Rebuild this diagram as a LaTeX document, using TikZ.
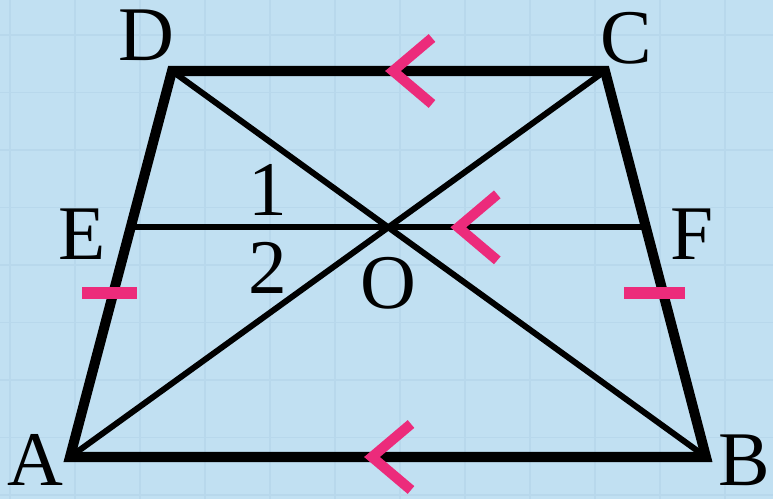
\documentclass[tikz,border=0pt]{standalone}
\usepackage{fontspec}
\setmainfont{Liberation Serif}
\usetikzlibrary{calc}
\definecolor{PaperBlue}{RGB}{193,224,242}
\definecolor{GridBlue}{RGB}{184,216,236}
\definecolor{MarkPink}{RGB}{236,43,123}
\tikzset{
  side/.style={line width=2.85pt, line join=miter},
  diag/.style={line width=1.7pt},
  parmark/.style={MarkPink, line width=2.9pt, line join=miter},
  tickmark/.style={MarkPink, line width=3.4pt},
  lbl/.style={font=\fontsize{22}{26}\selectfont, inner sep=0pt}
}
\newcommand{\parchev}[1]{\draw[parmark] (#1) ++(0.39,0.33) -- (#1) -- ++(0.39,-0.33);}

\begin{document}
\begin{tikzpicture}
  % paper and faint grid
  \fill[PaperBlue] (0,0) rectangle (7.73,4.99);
  \useasboundingbox (0,0) rectangle (7.73,4.99);
  \foreach \k in {0,...,11}
    \draw[GridBlue, line width=0.5pt] ({0.10+0.65*\k},0) -- ({0.10+0.65*\k},4.99);
  \foreach \k in {0,...,8}
    \draw[GridBlue, line width=0.5pt] (0,{4.64-0.575*\k}) -- (7.73,{4.64-0.575*\k});

  % trapezium ABCD
  \coordinate (A) at (0.70,0.42);
  \coordinate (B) at (7.06,0.42);
  \coordinate (C) at (6.05,4.28);
  \coordinate (D) at (1.72,4.28);
  \coordinate (O) at (intersection of A--C and B--D);
  \coordinate (Or) at ($(O)+(1,0)$);
  \coordinate (E) at (intersection of A--D and O--Or);
  \coordinate (F) at (intersection of B--C and O--Or);

  \draw[diag] (A) -- (C);
  \draw[diag] (B) -- (D);
  \draw[diag] (E) -- (F);
  \draw[side] (A) -- (B) -- (C) -- (D) -- cycle;

  % parallel marks
  \coordinate (mDC) at (3.93,4.28);
  \coordinate (mEF) at ($(O)+(0.70,0)$);
  \coordinate (mAB) at (3.72,0.42);
  \parchev{mDC}
  \parchev{mEF}
  \parchev{mAB}

  % equal-length ticks
  \coordinate (tAl) at (0.82,2.06);
  \coordinate (tAr) at (1.37,2.06);
  \coordinate (tBl) at (6.24,2.06);
  \coordinate (tBr) at (6.85,2.06);
  \draw[tickmark] (tAl) -- (tAr);
  \draw[tickmark] (tBl) -- (tBr);

  % labels
  \node[lbl] (lA) at (0.35,0.39) {A};
  \node[lbl] (lB) at (7.44,0.39) {B};
  \node[lbl] (lC) at (6.26,4.61) {C};
  \node[lbl] (lD) at (1.46,4.64) {D};
  \node[lbl] (lE) at (0.82,2.65) {E};
  \node[lbl] (lF) at (6.92,2.65) {F};
  \node[lbl] (lO) at (3.88,2.16) {O};
  \node[lbl] (l1) at (2.68,3.09) {1};
  \node[lbl] (l2) at (2.68,2.31) {2};
\end{tikzpicture}
\end{document}
